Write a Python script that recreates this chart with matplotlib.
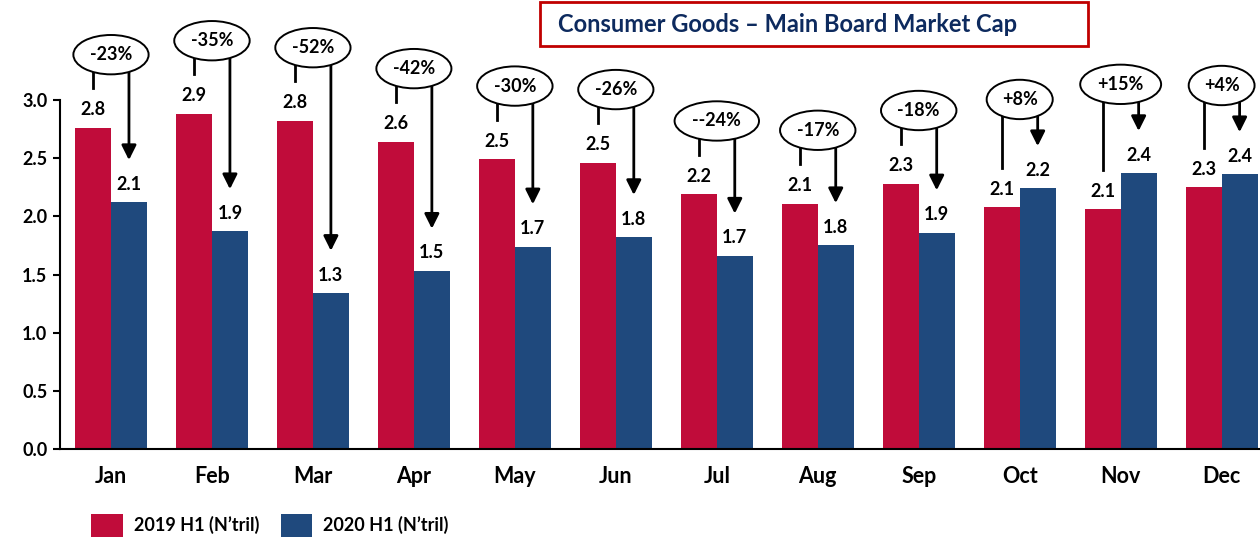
import matplotlib.pyplot as plt
import matplotlib.patches as mpatches
import numpy as np

plt.rcParams['font.family'] = ['Lato', 'DejaVu Sans']
plt.rcParams['font.weight'] = 'bold'

months = ["Jan", "Feb", "Mar", "Apr", "May", "Jun", "Jul", "Aug", "Sep", "Oct", "Nov", "Dec"]
cap_2019 = [2.76, 2.88, 2.82, 2.64, 2.49, 2.46, 2.19, 2.11, 2.28, 2.08, 2.06, 2.25]
cap_2020 = [2.12, 1.87, 1.34, 1.53, 1.74, 1.82, 1.66, 1.75, 1.86, 2.24, 2.37, 2.36]
labels_2019 = ["2.8", "2.9", "2.8", "2.6", "2.5", "2.5", "2.2", "2.1", "2.3", "2.1", "2.1", "2.3"]
labels_2020 = ["2.1", "1.9", "1.3", "1.5", "1.7", "1.8", "1.7", "1.8", "1.9", "2.2", "2.4", "2.4"]
changes = ["-23%", "-35%", "-52%", "-42%", "-30%", "-26%", "--24%", "-17%", "-18%", "+8%", "+15%", "+4%"]

red = "#C00C3A"
blue = "#1F497D"

fig = plt.figure(figsize=(12.6, 5.4), dpi=100)
ax = fig.add_axes([60 / 1260, 91 / 540, 1200 / 1260, 449 / 540])

x = np.arange(len(months))
w = 0.356
ax.bar(x - w / 2, cap_2019, w, color=red, label="2019 H1 (N\u2019tril)", zorder=2)
ax.bar(x + w / 2, cap_2020, w, color=blue, label="2020 H1 (N\u2019tril)", zorder=2)

for i in range(len(months)):
    xr, xb = x[i] - w / 2, x[i] + w / 2
    r, b = cap_2019[i], cap_2020[i]
    ax.text(xr, r + 0.155, labels_2019[i], ha="center", va="center", fontsize=13)
    ax.text(xb, b + 0.155, labels_2020[i], ha="center", va="center", fontsize=13)
    # ellipse with change, line from 2019 label, arrow to 2020 label
    yc = max(r, b) + (0.63 if b < r else 0.765)
    ax.text(x[i], yc, changes[i], ha="center", va="center", fontsize=13, zorder=5,
            bbox=dict(boxstyle="ellipse,pad=0.3", fc="white", ec="black", lw=1.4))
    ax.plot([xr, xr], [yc - 0.05, r + 0.34], color="black", lw=2, zorder=3)
    ax.annotate("", xy=(xb, b + 0.34), xytext=(xb, yc - 0.05),
                arrowprops=dict(arrowstyle="-|>", color="black", lw=2, mutation_scale=22),
                zorder=3)

ax.set_xlim(-0.505, 11.38)
ax.set_ylim(0, 3.86)
ax.set_yticks([0, 0.5, 1.0, 1.5, 2.0, 2.5, 3.0])
ax.set_yticklabels(["0.0", "0.5", "1.0", "1.5", "2.0", "2.5", "3.0"], fontsize=13)
ax.set_xticks(x)
ax.set_xticklabels(months, fontsize=15.5)
ax.tick_params(axis="x", length=0, pad=12)
ax.tick_params(axis="y", length=5, width=1.5, pad=4)
ax.spines["left"].set_bounds(0, 3.0)
ax.spines["left"].set_linewidth(1.5)
ax.spines["bottom"].set_linewidth(1.5)
ax.spines["top"].set_visible(False)
ax.spines["right"].set_visible(False)

# title box
fig.patches.append(mpatches.Rectangle((540 / 1260, 494 / 540), 548 / 1260, 44 / 540,
                                      transform=fig.transFigure, fill=False,
                                      ec="#C00000", lw=2))
fig.text(558 / 1260, 516 / 540, "Consumer Goods \u2013 Main Board Market Cap",
         ha="left", va="center", fontsize=17, color="#0D2A5E")

fig.legend(loc="lower left", bbox_to_anchor=(75 / 1260, -0.024), ncol=2, frameon=False,
           fontsize=13, handlelength=1.75, handleheight=1.6, handletextpad=0.6,
           columnspacing=1.2)

fig.savefig("out.png", dpi=100)
